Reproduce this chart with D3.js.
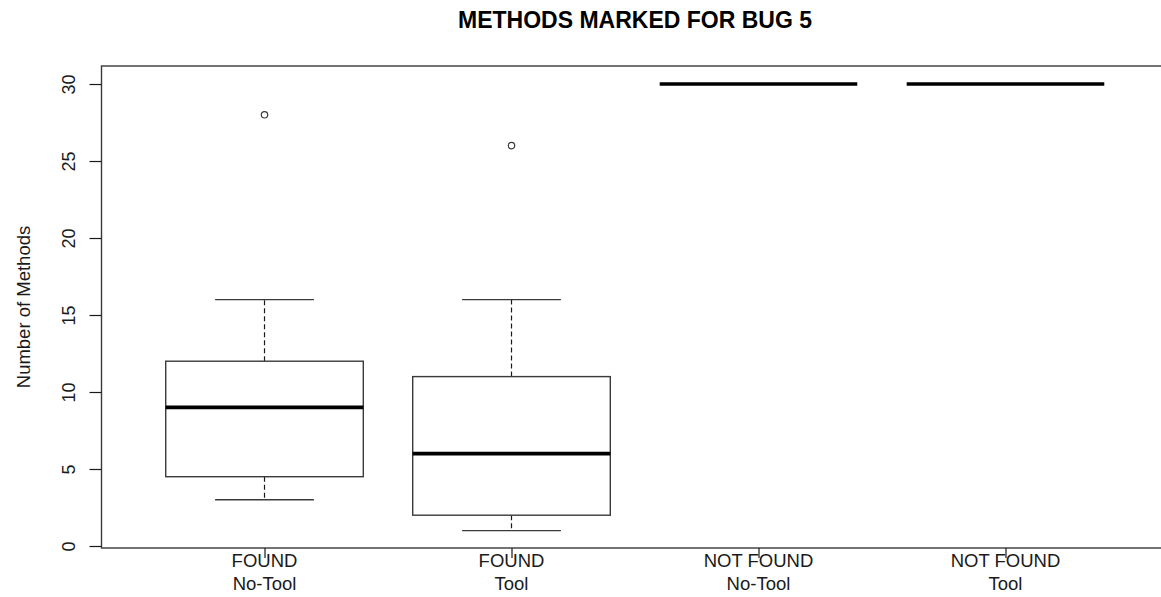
<!DOCTYPE html>
<html>
<head>
<meta charset="utf-8">
<script src="https://cdn.jsdelivr.net/npm/d3@7/dist/d3.min.js"></script>
<style>
  html, body { margin: 0; padding: 0; background: #fff; }
  svg { display: block; font-family: "Liberation Sans", Arial, sans-serif; }
</style>
</head>
<body>
<svg id="chart" width="1161" height="597"></svg>
<script>
// Group labels (two lines each)
const groupStatus = ["FOUND", "FOUND", "NOT FOUND", "NOT FOUND"];
const groupTool = ["No-Tool", "Tool", "No-Tool", "Tool"];

// Five-number summaries per group
const lowerWhisker = [3, 1, 30, 30];
const lowerQuartile = [4.5, 2, 30, 30];
const medians = [9, 6, 30, 30];
const upperQuartile = [12, 11, 30, 30];
const upperWhisker = [16, 16, 30, 30];
const outliers = [[28], [26], [], []];

const yTicks = [0, 5, 10, 15, 20, 25, 30];

(function draw() {
  const svg = d3.select("#chart");
  const ink = "#1a1a1a";
  const lineCol = "#3a3a3a";

  // Plot region (axis ranges padded as in a base boxplot)
  const plotLeft = 101.5, plotRight = 1168.5, plotTop = 66, plotBottom = 548;
  const x = d3.scaleLinear().domain([0.34, 4.66]).range([plotLeft, plotRight]);
  const y = d3.scaleLinear().domain([-0.13, 31.17]).range([plotBottom, plotTop]);

  const boxHalf = 0.4;     // box width 0.8 units
  const stapleHalf = 0.2;  // whisker cap width 0.4 units

  const groups = groupStatus.map((s, i) => ({
    i: i + 1,
    lo: lowerWhisker[i], q1: lowerQuartile[i], med: medians[i],
    q3: upperQuartile[i], hi: upperWhisker[i], out: outliers[i]
  }));

  const g = svg.append("g");

  // Whiskers (dashed)
  g.append("g").selectAll("line").data(groups).join("line")
    .attr("x1", d => x(d.i)).attr("x2", d => x(d.i))
    .attr("y1", d => y(d.q1)).attr("y2", d => y(d.lo))
    .attr("stroke", ink).attr("stroke-width", 1.2).attr("stroke-dasharray", "5,3");
  g.append("g").selectAll("line").data(groups).join("line")
    .attr("x1", d => x(d.i)).attr("x2", d => x(d.i))
    .attr("y1", d => y(d.q3)).attr("y2", d => y(d.hi))
    .attr("stroke", ink).attr("stroke-width", 1.2).attr("stroke-dasharray", "5,3");

  // Staples
  ["lo", "hi"].forEach(k => {
    g.append("g").selectAll("line").data(groups).join("line")
      .attr("x1", d => x(d.i - stapleHalf)).attr("x2", d => x(d.i + stapleHalf))
      .attr("y1", d => y(d[k])).attr("y2", d => y(d[k]))
      .attr("stroke", lineCol).attr("stroke-width", 1.4);
  });

  // Boxes
  g.append("g").selectAll("rect").data(groups).join("rect")
    .attr("x", d => x(d.i - boxHalf))
    .attr("width", d => x(d.i + boxHalf) - x(d.i - boxHalf))
    .attr("y", d => y(d.q3))
    .attr("height", d => y(d.q1) - y(d.q3))
    .attr("fill", "#fff").attr("stroke", lineCol).attr("stroke-width", 1.4);

  // Medians
  g.append("g").selectAll("line").data(groups).join("line")
    .attr("x1", d => x(d.i - boxHalf)).attr("x2", d => x(d.i + boxHalf))
    .attr("y1", d => y(d.med)).attr("y2", d => y(d.med))
    .attr("stroke", "#000").attr("stroke-width", 3.6);

  // Outliers
  g.append("g").selectAll("circle")
    .data(groups.flatMap(d => d.out.map(v => ({ i: d.i, v }))))
    .join("circle")
    .attr("cx", d => x(d.i)).attr("cy", d => y(d.v)).attr("r", 3.2)
    .attr("fill", "none").attr("stroke", lineCol).attr("stroke-width", 1.2);

  // Frame
  svg.append("rect")
    .attr("x", plotLeft).attr("y", plotTop)
    .attr("width", plotRight - plotLeft).attr("height", plotBottom - plotTop)
    .attr("fill", "none").attr("stroke", lineCol).attr("stroke-width", 1.4);

  // Y axis
  const yAxis = svg.append("g")
    .attr("transform", `translate(${plotLeft},0)`)
    .call(d3.axisLeft(y).tickValues(yTicks).tickSize(12).tickSizeOuter(0));
  yAxis.select(".domain").remove();
  yAxis.selectAll(".tick line").attr("stroke", ink).attr("stroke-width", 1.2);
  yAxis.selectAll(".tick text")
    .attr("transform", "rotate(-90)")
    .attr("x", 0).attr("y", -26.5).attr("dy", null)
    .attr("text-anchor", "middle")
    .attr("fill", ink)
    .style("font-size", "18px")
    .style("font-family", "'Liberation Sans', Arial, sans-serif");

  // X axis
  const xAxis = svg.append("g")
    .attr("transform", `translate(0,${plotBottom})`)
    .call(d3.axisBottom(x).tickValues(groups.map(d => d.i)).tickSize(10).tickSizeOuter(0).tickFormat(""));
  xAxis.select(".domain").remove();
  xAxis.selectAll(".tick line").attr("stroke", ink).attr("stroke-width", 1.2);

  const xl = svg.append("g").selectAll("text").data(groups).join("text")
    .attr("text-anchor", "middle")
    .attr("fill", ink)
    .style("font-size", "18.5px");
  xl.append("tspan").attr("x", d => x(d.i)).attr("y", 567).text((d, k) => groupStatus[k]);
  xl.append("tspan").attr("x", d => x(d.i)).attr("y", 590).text((d, k) => groupTool[k]);

  // Y axis title
  svg.append("text")
    .attr("transform", `translate(30,${(plotTop + plotBottom) / 2}) rotate(-90)`)
    .attr("text-anchor", "middle")
    .attr("fill", ink)
    .style("font-size", "18.5px")
    .text("Number of Methods");

  // Title
  svg.append("text")
    .attr("x", (plotLeft + plotRight) / 2).attr("y", 28)
    .attr("text-anchor", "middle")
    .attr("fill", "#000")
    .style("font-size", "23px").style("font-weight", "bold")
    .text("METHODS MARKED FOR BUG 5");
})();
</script>
</body>
</html>
